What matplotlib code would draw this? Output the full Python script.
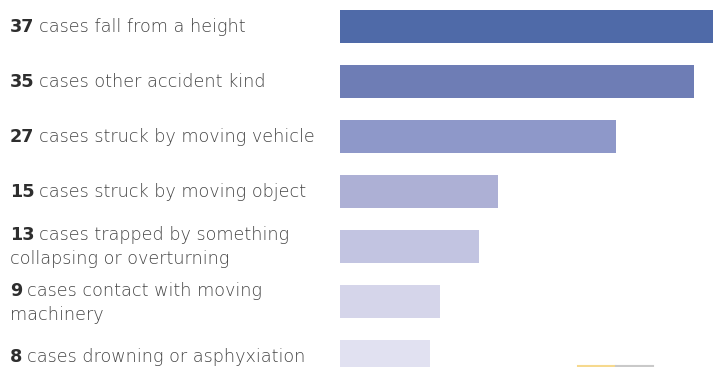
import matplotlib
matplotlib.use("Agg")
import matplotlib.pyplot as plt
from matplotlib.lines import Line2D
from matplotlib.transforms import blended_transform_factory

counts = [37, 35, 27, 15, 13, 9, 8]
line1 = ["cases fall from a height",
         "cases other accident kind",
         "cases struck by moving vehicle",
         "cases struck by moving object",
         "cases trapped by something",
         "cases contact with moving",
         "cases drowning or asphyxiation"]
line2 = ["", "", "", "", "collapsing or overturning", "machinery", ""]
colors = ["#4f6aa8", "#6e7db5", "#8e98c9", "#adb0d5", "#c2c4e1", "#d5d5ea", "#e1e1f1"]

W, H = 723, 367
fig = plt.figure(figsize=(W / 100, H / 100), dpi=100)
fig.patch.set_facecolor("white")

px_per_unit = 9.76
zero_px = 352
ax = fig.add_axes([0, 0, 1, 1])
ax.set_xlim(-zero_px / px_per_unit, (W - zero_px) / px_per_unit)
row_pitch = 55.0
first_center = 26.5
ax.set_ylim((H - first_center) / row_pitch, -first_center / row_pitch)
ax.axis("off")

base = (zero_px - 340) / px_per_unit
ys = list(range(len(counts)))
ax.barh(ys, [c + base for c in counts], left=-base, height=0.6, color=colors)

fam = ["DejaVu Sans"]
fs = 12.7
pt = 0.72  # points per pixel at dpi 100
trans = blended_transform_factory(fig.transFigure, ax.transData)
x0 = 10 / W
for y, c, t1, t2 in zip(ys, counts, line1, line2):
    b1 = 5.5 if not t2 else -6
    num = ax.annotate(str(c), xy=(x0, y), xycoords=trans, xytext=(0, -b1 * pt),
                      textcoords="offset points", fontsize=fs, fontweight="bold",
                      color="#2e2e2e", family=fam, va="baseline", ha="left")
    ax.annotate(t1, xy=(1, 0), xycoords=num, xytext=(3.2, 0),
                textcoords="offset points", fontsize=fs, fontweight="light",
                color="#444444", family=fam, va="bottom", ha="left")
    if t2:
        ax.annotate(t2, xy=(x0, y), xycoords=trans, xytext=(0, -18 * pt),
                    textcoords="offset points", fontsize=fs, fontweight="light",
                    color="#444444", family=fam, va="baseline", ha="left")

yb = 1 - 366 / H
fig.add_artist(Line2D([578 / W, 615 / W], [yb, yb], transform=fig.transFigure,
                      color="#f6d98e", lw=1.5))
fig.add_artist(Line2D([616 / W, 653 / W], [yb, yb], transform=fig.transFigure,
                      color="#c9c9c9", lw=1.5))

fig.savefig("out.png", dpi=100, facecolor="white")
